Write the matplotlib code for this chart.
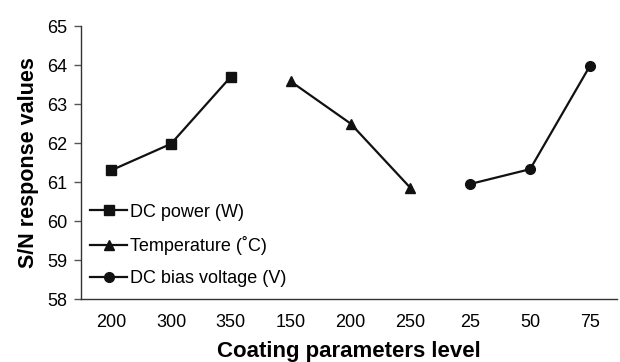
import matplotlib
matplotlib.use("Agg")
import matplotlib.pyplot as plt

plt.rcParams["font.family"] = ["Liberation Sans", "DejaVu Sans"]

tick_labels = ["200", "300", "350", "150", "200", "250", "25", "50", "75"]
power = [61.30, 61.98, 63.70]
temperature = [63.58, 62.50, 60.85]
bias = [60.95, 61.33, 63.98]

fig = plt.figure(figsize=(6.2, 3.62), dpi=100)
ax = fig.add_axes([0.131, 0.174, 0.864, 0.754])

ax.plot([0, 1, 2], power, color="#111111", lw=1.6, marker="s", ms=7, label="DC power (W)")
ax.plot([3, 4, 5], temperature, color="#111111", lw=1.6, marker="^", ms=7, label="Temperature (˚C)")
ax.plot([6, 7, 8], bias, color="#111111", lw=1.6, marker="o", ms=7, label="DC bias voltage (V)")

ax.set_xlim(-0.5, 8.45)
ax.set_ylim(58, 65)
ax.set_xticks(range(9))
ax.set_xticklabels(tick_labels)
ax.tick_params(axis="x", length=0, pad=11, labelsize=13)
ax.tick_params(axis="y", length=5, width=1, color="#555555", labelsize=13, pad=5)
for s in ["top", "right"]:
    ax.spines[s].set_visible(False)
for s in ["left", "bottom"]:
    ax.spines[s].set_color("#333333")
    ax.spines[s].set_linewidth(1)

ax.set_ylabel("S/N response values", fontsize=15.5, fontweight="bold", labelpad=6)
ax.set_xlabel("Coating parameters level", fontsize=16, fontweight="bold", labelpad=7)

ax.legend(loc="center left", bbox_to_anchor=(0.017, 0.196), frameon=False, fontsize=13,
          handlelength=2.05, handletextpad=0.15, labelspacing=0.85, borderpad=0,
          borderaxespad=0)

fig.savefig("out.png", dpi=100)
